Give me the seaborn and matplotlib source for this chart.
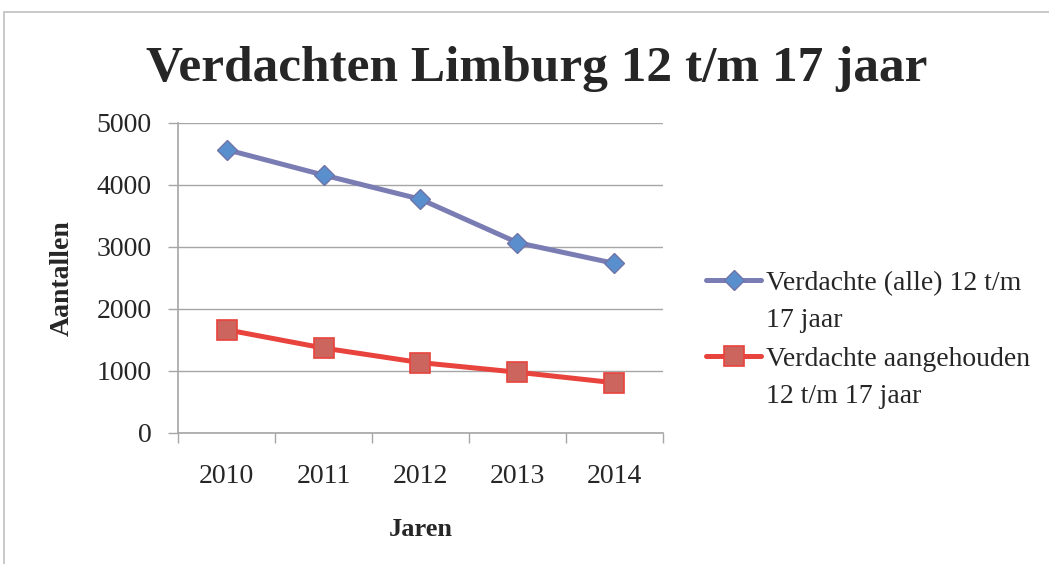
import matplotlib.pyplot as plt
import matplotlib.patches as patches
from matplotlib.legend_handler import HandlerLine2D
from matplotlib.ticker import FixedLocator
import numpy as np
import pandas as pd
import seaborn as sns

years = ["2010", "2011", "2012", "2013", "2014"]
verdachte_alle = [4570, 4160, 3770, 3070, 2735]
verdachte_aangehouden = [1665, 1370, 1135, 980, 810]

label_alle = "Verdachte (alle) 12 t/m\n17 jaar"
label_aangehouden = "Verdachte aangehouden\n12 t/m 17 jaar"


class FirstLineHandler(HandlerLine2D):
    # put the legend line next to the first text line, like Excel does
    def create_artists(self, legend, orig_handle, xdescent, ydescent, width, height, fontsize, trans):
        artists = super().create_artists(legend, orig_handle, xdescent, ydescent, width, height,
                                         fontsize, trans)
        for a in artists:
            a.set_ydata(np.asarray(a.get_ydata()) + 0.8 * fontsize)
        return artists


sns.set_style("white")
plt.rcParams["font.family"] = ["Liberation Serif", "DejaVu Serif"]

df = pd.DataFrame({"jaar": years, "alle": verdachte_alle, "aangehouden": verdachte_aangehouden})

fig = plt.figure(figsize=(10.49, 5.64), dpi=100)
ax = fig.add_axes([0.1697, 0.2323, 0.4623, 0.5497])

sns.lineplot(data=df, x="jaar", y="alle", ax=ax, color="#7a7db3", lw=3.6, marker="D",
             markersize=10.5, markerfacecolor="#5a8fcd", markeredgecolor="#7073a8",
             markeredgewidth=1, label=label_alle, sort=False)
sns.lineplot(data=df, x="jaar", y="aangehouden", ax=ax, color="#e8433d", lw=3.6, marker="s",
             markersize=14, markerfacecolor="#cc655e", markeredgecolor="#e8433d",
             markeredgewidth=1.2, label=label_aangehouden, sort=False)

ax.set_xlim(-0.5, 4.5)
ax.set_ylim(0, 5000)
ax.set_yticks([0, 1000, 2000, 3000, 4000, 5000])
ax.yaxis.grid(True, color="#a6a6a6", lw=1)
ax.xaxis.grid(False)
ax.xaxis.set_minor_locator(FixedLocator([-0.5, 0.5, 1.5, 2.5, 3.5, 4.5]))
ax.tick_params(axis="x", which="major", length=0, pad=22, labelsize=20)
ax.tick_params(axis="x", which="minor", length=7, width=1, color="#a6a6a6", direction="out", bottom=True)
ax.tick_params(axis="y", length=7, width=1, color="#a6a6a6", direction="out", left=True, pad=12, labelsize=20)

for side in ["top", "right"]:
    ax.spines[side].set_visible(False)
for side in ["left", "bottom"]:
    ax.spines[side].set_color("#a6a6a6")
    ax.spines[side].set_linewidth(1.2)

ax.set_xlabel("Jaren", fontsize=19, fontweight="bold", labelpad=21)
ax.set_ylabel("Aantallen", fontsize=20, fontweight="bold", labelpad=16)

fig.text(0.512, 0.878, "Verdachten Limburg 12 t/m 17 jaar", ha="center", va="center",
         fontsize=37, fontweight="bold")

leg = ax.legend(loc="center left", bbox_to_anchor=(0.649, 0.397), bbox_transform=fig.transFigure,
                frameon=False, fontsize=20, handlelength=2.0, handletextpad=0.15, labelspacing=0.5,
                handler_map={plt.Line2D: FirstLineHandler()})
for t in leg.get_texts():
    t.set_linespacing(1.65)

fig.patches.append(patches.Rectangle((4 / 1049, -0.1), 1.2, 1 - 12 / 564 + 0.1,
                                     transform=fig.transFigure, fill=False,
                                     edgecolor="#c0c0c0", lw=1.2))

fig.savefig("out.png", dpi=100)
